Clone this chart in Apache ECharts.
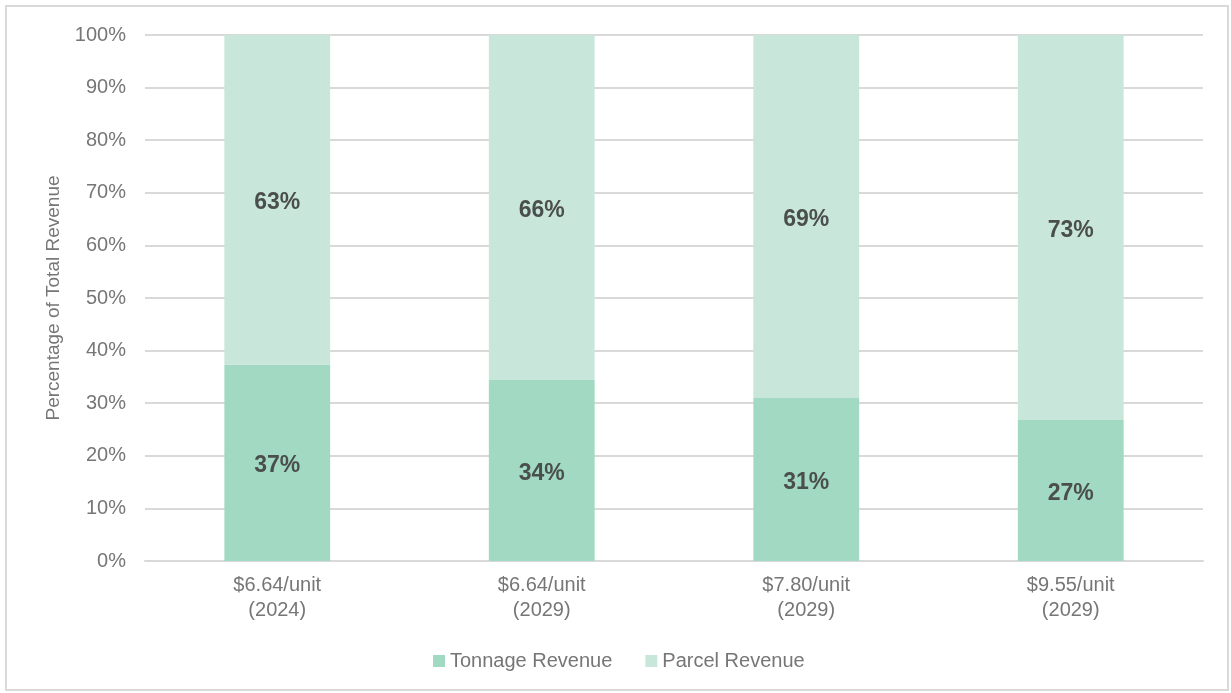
<!DOCTYPE html>
<html>
<head>
<meta charset="utf-8">
<script src="https://cdn.jsdelivr.net/npm/echarts@6/dist/echarts.min.js"></script>
<style>
  html, body { margin: 0; padding: 0; background: #fff; }
  .frame {
    position: absolute; left: 5px; top: 5px; width: 1224px; height: 686px;
    border: 2px solid #d9d9d9; box-sizing: border-box;
  }
  #chart { position: absolute; left: 0; top: 0; width: 1231px; height: 693px; }
</style>
</head>
<body>
<div class="frame"></div>
<div id="chart"></div>
<script>
// categories and shares (percent of total revenue)
const categories = ['$6.64/unit\n(2024)', '$6.64/unit\n(2029)', '$7.80/unit\n(2029)', '$9.55/unit\n(2029)']
const tonnageRevenue = [37.3, 34.4, 31.0, 26.8]
const parcelRevenue = [62.7, 65.6, 69.0, 73.2]
const seriesNames = ['Tonnage Revenue', 'Parcel Revenue']

const chart = echarts.init(document.getElementById('chart'))

const labelStyle = {
  show: true,
  position: 'inside',
  offset: [0, 3],
  color: '#4a4f4d',
  fontSize: 23,
  fontWeight: 'bold',
  fontFamily: 'Liberation Sans, Arial, sans-serif',
  formatter: (p) => Math.round(p.value) + '%'
}

const option = {
  animation: false,
  textStyle: { fontFamily: 'Liberation Sans, Arial, sans-serif' },
  grid: { left: 145, right: 28, top: 35, bottom: 132 },
  legend: {
    top: 646,
    left: 428,
    itemWidth: 12,
    itemHeight: 12,
    itemGap: 33,
    icon: 'rect',
    textStyle: { color: '#767676', fontSize: 20 },
    data: seriesNames
  },
  xAxis: {
    type: 'category',
    data: categories,
    axisLine: { lineStyle: { color: '#d9d9d9', width: 2 } },
    axisTick: { show: false },
    axisLabel: { color: '#767676', fontSize: 20, lineHeight: 25, margin: 12 }
  },
  yAxis: {
    type: 'value',
    min: 0,
    max: 100,
    interval: 10,
    name: 'Percentage of Total Revenue',
    nameLocation: 'middle',
    nameGap: 82,
    nameTextStyle: { color: '#767676', fontSize: 19 },
    axisLine: { show: false },
    axisTick: { show: false },
    axisLabel: { color: '#767676', fontSize: 20, margin: 19, formatter: '{value}%' },
    splitLine: { lineStyle: { color: '#d9d9d9', width: 2 } }
  },
  series: [
    {
      name: seriesNames[0],
      type: 'bar',
      stack: 'total',
      barWidth: '40%',
      itemStyle: { color: '#a2d9c2' },
      label: labelStyle,
      data: tonnageRevenue
    },
    {
      name: seriesNames[1],
      type: 'bar',
      stack: 'total',
      barWidth: '40%',
      itemStyle: { color: '#c9e6db' },
      label: labelStyle,
      data: parcelRevenue
    }
  ]
}

chart.setOption(option)
</script>
</body>
</html>
